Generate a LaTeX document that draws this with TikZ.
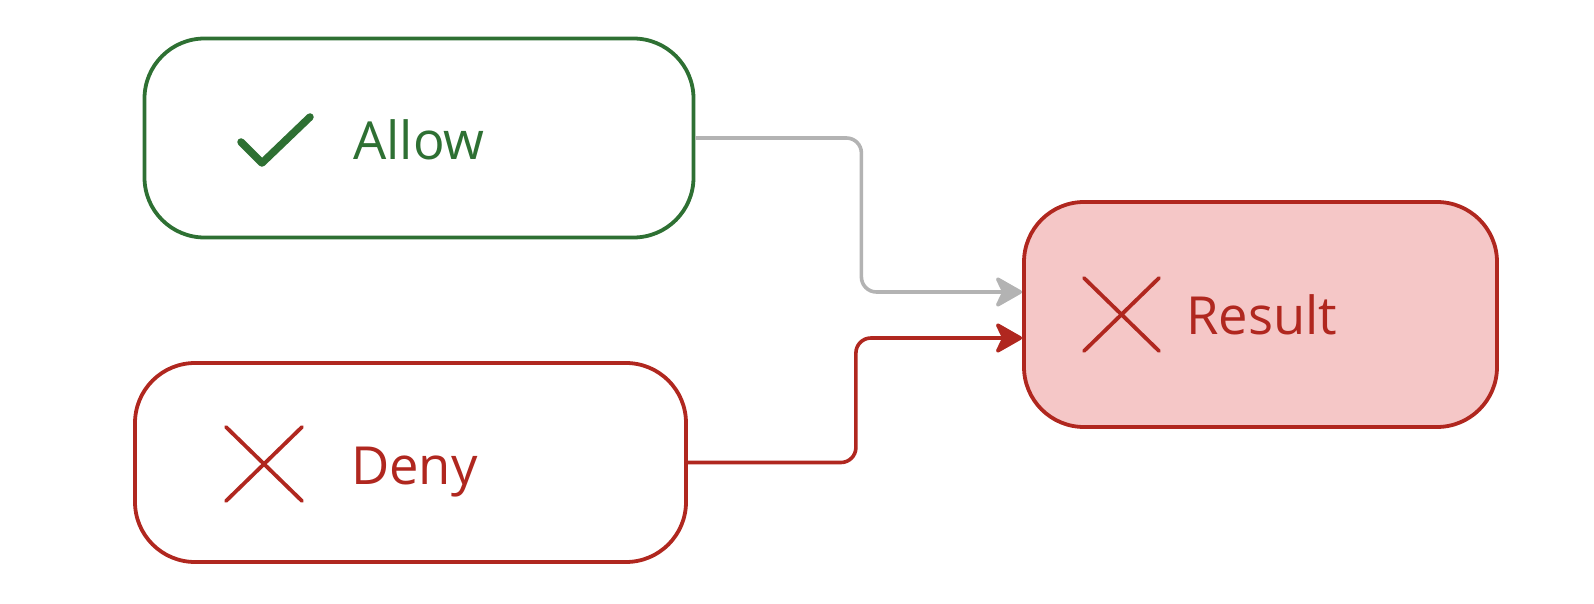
\documentclass[tikz,border=0pt]{standalone}
\usepackage{fontspec}
\setmainfont{Open Sans}
\usetikzlibrary{arrows.meta}
\definecolor{okgreen}{HTML}{2E7033}
\definecolor{badred}{HTML}{B0271F}
\definecolor{pinkfill}{HTML}{F5C7C7}
\definecolor{linkgray}{HTML}{B3B3B3}
\tikzset{
  box/.style={draw, line width=3.8pt, rounded corners=60pt, minimum width=549pt, minimum height=199pt, inner sep=0pt},
  label/.style={anchor=base west, inner sep=0pt, font=\fontsize{52.5}{63}\selectfont},
  icon/.style={line width=3.8pt, line cap=round},
  link/.style={line width=3.6pt, rounded corners=15pt, -{Stealth[length=30pt,width=34pt,inset=8pt,round]}},
}
\begin{document}
\begin{tikzpicture}[x=1pt,y=-1pt]
\useasboundingbox (0,0) rectangle (1594,604);
% boxes
\node[box, draw=okgreen, fill=white] (allow) at (419,138) {};
\node[box, draw=badred, fill=white, minimum width=551pt] (deny) at (410.5,462.5) {};
\node[box, draw=badred, fill=pinkfill, minimum width=473pt, minimum height=225pt] (result) at (1260.5,314.5) {};
% icons
\draw[icon, okgreen, line width=7.5pt, line join=round] (241,142) -- (262,163) -- (310,117);
\draw[icon, badred] (226,427) -- (302,501) (302,427) -- (226,501);
\draw[icon, badred] (1084,278) -- (1159,351) (1159,278) -- (1084,351);
% labels
\node[label, text=okgreen] (allowtext) at (353,160) {Allow};
\node[label, text=badred] (denytext) at (351,484) {Deny};
\node[label, text=badred] (resulttext) at (1186,334) {Result};
% connectors
\draw[link, linkgray] (allow.east) -- ++(166,0) |- ([yshift=22.5pt]result.west);
\draw[link, badred] (deny.east) -- ++(168,0) |- ([yshift=-23.5pt]result.west);
\end{tikzpicture}
\end{document}
